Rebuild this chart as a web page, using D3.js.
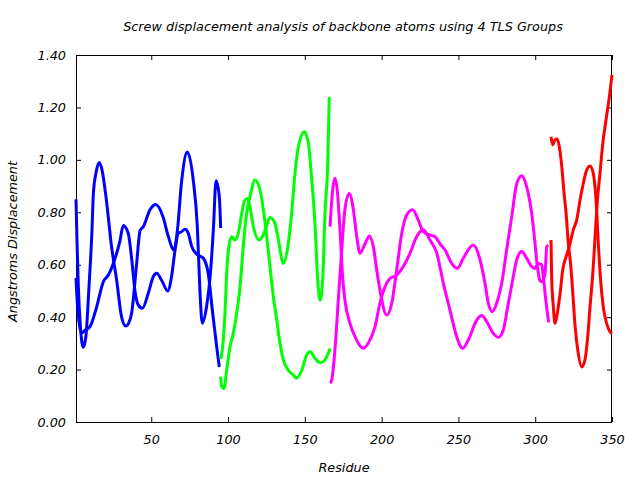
<!DOCTYPE html>
<html>
<head>
<meta charset="utf-8">
<script src="https://cdn.jsdelivr.net/npm/d3@7"></script>
<style>
  html, body { margin: 0; padding: 0; background: #fff; }
  svg text { font-family: "DejaVu Sans", sans-serif; font-style: italic; fill: #000; }
</style>
</head>
<body>
<svg id="chart" width="640" height="480"></svg>
<script>
// ---- data (residue, screw displacement in Å) ----
const chartTitle = "Screw displacement analysis of backbone atoms using 4 TLS Groups";
const xLabel = "Residue";
const yLabel = "Angstroms Displacement";
const xTicks = [50, 100, 150, 200, 250, 300, 350];
const yTicks = [0.00, 0.20, 0.40, 0.60, 0.80, 1.00, 1.20, 1.40];

// TLS group 1 (blue)
const group1a = [[1,0.85],[1.6,0.70],[2.5,0.52],[3.8,0.37],[5.75,0.285],[7.5,0.33],[9.5,0.52],[11.4,0.73],[12.3,0.87],[14,0.95],[16.2,0.99],[18,0.96],[20.5,0.86],[22.7,0.745],[23.5,0.70],[27.5,0.54],[30.7,0.40],[33.4,0.366],[35.5,0.38],[37.2,0.415],[40.5,0.605],[42.7,0.73],[44.8,0.745],[49.2,0.81],[53,0.83],[57.8,0.78],[61,0.71],[64.8,0.656],[67,0.73],[69.8,0.92],[73.5,1.03],[77.4,0.92],[80,0.745],[81.7,0.50],[83.2,0.377],[86,0.44],[88.7,0.58],[90.4,0.73],[92.2,0.92],[94.3,0.86],[95.2,0.74]];
const group1b = [[1,0.55],[2,0.44],[3,0.38],[4.5,0.34],[6.9,0.35],[10.1,0.364],[14.5,0.44],[18.8,0.535],[22,0.56],[25.3,0.605],[29.6,0.69],[31.8,0.75],[35,0.72],[37.3,0.62],[39.4,0.50],[41.6,0.446],[44.2,0.434],[48,0.49],[51.3,0.554],[53.5,0.567],[56.8,0.54],[60.7,0.50],[63.2,0.554],[65.5,0.656],[67.6,0.72],[69.5,0.725],[72,0.735],[74.1,0.72],[76.3,0.67],[79.6,0.64],[83.9,0.625],[87,0.57],[90,0.415],[92.6,0.287],[94.3,0.21]];
// TLS group 2 (green)
const group2a = [[95.2,0.173],[95.9,0.135],[97.4,0.128],[99.1,0.198],[101.3,0.287],[103.4,0.338],[105.6,0.415],[107.8,0.516],[109.9,0.67],[112.1,0.796],[114.3,0.86],[117.5,0.923],[120.8,0.885],[123,0.81],[125.2,0.707],[127.3,0.593],[129.5,0.478],[131.7,0.39],[133.8,0.30],[136,0.237],[139.2,0.198],[142.5,0.18],[144.7,0.167],[148,0.198],[151.2,0.256],[153.4,0.268],[156.6,0.243],[159.9,0.226],[163.1,0.237],[165.3,0.262],[166.4,0.28]];
const group2b = [[95.4,0.24],[96.9,0.313],[98,0.415],[99.1,0.567],[100.8,0.68],[102.4,0.707],[104.5,0.694],[106.7,0.72],[108.9,0.796],[111,0.847],[112.8,0.853],[114.3,0.82],[116.5,0.745],[120.4,0.694],[124.1,0.73],[127.3,0.78],[130.6,0.757],[132.8,0.694],[136,0.605],[139.2,0.68],[141.4,0.796],[143.6,0.95],[145.8,1.05],[149.7,1.107],[152.3,1.063],[154.5,0.923],[156.6,0.757],[158.4,0.54],[159.9,0.465],[161.6,0.54],[163.1,0.796],[164.9,0.987],[165.9,1.24]];
// TLS group 3 (magenta)
const group3a = [[166.4,0.148],[167.5,0.16],[169.6,0.275],[171.8,0.465],[174,0.656],[176.1,0.81],[178.9,0.872],[181.6,0.81],[183.8,0.707],[185.9,0.644],[189.2,0.68],[192,0.71],[194.6,0.669],[196.8,0.58],[198.9,0.504],[203.3,0.408],[206.6,0.453],[209.8,0.58],[213.1,0.72],[216.3,0.79],[220.2,0.81],[223.9,0.77],[227.1,0.726],[231.5,0.713],[234.8,0.707],[238,0.68],[241.3,0.656],[245.6,0.605],[249.3,0.586],[253.2,0.625],[259.7,0.675],[264.1,0.618],[267.3,0.529],[269.5,0.453],[272.1,0.421],[274.9,0.453],[278.2,0.529],[281.4,0.656],[284.7,0.783],[288,0.91],[291.2,0.939],[294.4,0.898],[297.7,0.796],[299.9,0.68],[301.4,0.593],[303.1,0.54],[304.2,0.535],[306.4,0.567],[307.5,0.669],[308.5,0.675]];
const group3b = [[166.4,0.745],[168.1,0.885],[169.6,0.93],[171.1,0.885],[172.9,0.733],[174.6,0.554],[176.1,0.465],[179.4,0.376],[182.7,0.325],[188,0.281],[192.4,0.313],[195.7,0.364],[198.9,0.453],[202.2,0.516],[205.5,0.548],[209.8,0.56],[214.1,0.593],[218.5,0.644],[222.8,0.707],[227.1,0.733],[231.5,0.694],[235.9,0.644],[240.2,0.529],[244.5,0.427],[248.9,0.325],[252.8,0.281],[256.4,0.313],[261.9,0.389],[265.2,0.406],[268.4,0.383],[272.7,0.338],[276,0.323],[279.2,0.351],[282.5,0.453],[285.7,0.554],[287.9,0.618],[291.2,0.65],[294.4,0.625],[297.7,0.593],[299.9,0.586],[302,0.605],[304.2,0.60],[305.3,0.554],[306.8,0.47],[308.3,0.40],[308.8,0.38]];
// TLS group 4 (red)
const group4a = [[310.3,1.088],[311.4,1.057],[312.9,1.076],[314.4,1.08],[315.7,1.05],[317.3,0.974],[318.8,0.872],[320.1,0.796],[321.6,0.68],[323.2,0.593],[324.5,0.49],[326,0.364],[327.7,0.275],[330.3,0.21],[332.4,0.237],[334,0.313],[335.7,0.44],[337.5,0.567],[339,0.707],[340.5,0.847],[342.2,0.949],[344,1.063],[346.1,1.152],[348.3,1.241],[350,1.324]];
const group4b = [[310.3,0.694],[310.7,0.554],[311.8,0.44],[312.9,0.376],[314.4,0.415],[316.2,0.49],[317.9,0.58],[320.1,0.63],[322.2,0.669],[324.8,0.733],[327,0.77],[329.2,0.847],[331.3,0.91],[333.5,0.961],[335.7,0.977],[337.8,0.949],[339.6,0.847],[341.1,0.68],[342.6,0.54],[344.3,0.44],[346.5,0.376],[348.7,0.345],[350,0.338]];

const seriesList = [
  {data: group1a, color: "#0000ff"}, {data: group1b, color: "#0000ff"},
  {data: group2a, color: "#00ff00"}, {data: group2b, color: "#00ff00"},
  {data: group3a, color: "#ff00ff"}, {data: group3b, color: "#ff00ff"},
  {data: group4a, color: "#ff0000"}, {data: group4b, color: "#ff0000"}
];

// ---- layout ----
const mLeft = 76, mRight = 612, mTop = 55, mBottom = 422;
const fontSize = 12.8;
const svg = d3.select("#chart");
const x = d3.scaleLinear().domain([1, 350]).range([mLeft, mRight]);
const y = d3.scaleLinear().domain([0, 1.4]).range([mBottom, mTop]);

const fmt = d3.format(".2f");
const tickLen = 5;

// axes
const gL = svg.append("g").attr("transform", `translate(${mLeft},0)`)
  .call(d3.axisLeft(y).tickValues(yTicks).tickFormat(fmt).tickSizeInner(-tickLen).tickSizeOuter(0).tickPadding(10));
const gR = svg.append("g").attr("transform", `translate(${mRight},0)`)
  .call(d3.axisRight(y).tickValues(yTicks).tickFormat("").tickSizeInner(-tickLen).tickSizeOuter(0));
const gB = svg.append("g").attr("transform", `translate(0,${mBottom})`)
  .call(d3.axisBottom(x).tickValues(xTicks).tickFormat(d3.format("d")).tickSizeInner(-tickLen).tickSizeOuter(0).tickPadding(13));
const gT = svg.append("g").attr("transform", `translate(0,${mTop})`)
  .call(d3.axisTop(x).tickValues(xTicks).tickFormat("").tickSizeInner(-tickLen).tickSizeOuter(0));
[gL, gR, gB, gT].forEach(g => {
  g.select(".domain").remove();
  g.selectAll(".tick line").attr("stroke", "#000").attr("stroke-width", 1);
  g.selectAll("text").attr("font-size", fontSize).attr("font-family", "DejaVu Sans").attr("font-style", "italic").attr("fill", "#000");
});

// border
svg.append("rect").attr("x", mLeft + 0.5).attr("y", mTop + 0.5)
  .attr("width", mRight - mLeft - 1).attr("height", mBottom - mTop)
  .attr("fill", "none").attr("stroke", "#000").attr("stroke-width", 1);

// lines
const line = d3.line().x(d => x(d[0])).y(d => y(d[1])).curve(d3.curveMonotoneX);
svg.append("g").selectAll("path").data(seriesList).join("path")
  .attr("d", s => line(s.data))
  .attr("fill", "none")
  .attr("stroke", s => s.color)
  .attr("stroke-width", 3)
  .attr("stroke-linejoin", "round")
  .attr("stroke-linecap", "butt");

// titles
svg.append("text").attr("x", (mLeft + mRight) / 2 - 1).attr("y", 31)
  .attr("text-anchor", "middle").attr("font-size", fontSize).text(chartTitle);
svg.append("text").attr("x", (mLeft + mRight) / 2).attr("y", 472)
  .attr("text-anchor", "middle").attr("font-size", fontSize).text(xLabel);
svg.append("text").attr("transform", `translate(17,${(mTop + mBottom) / 2 + 3}) rotate(-90)`)
  .attr("text-anchor", "middle").attr("font-size", fontSize).text(yLabel);
</script>
</body>
</html>
